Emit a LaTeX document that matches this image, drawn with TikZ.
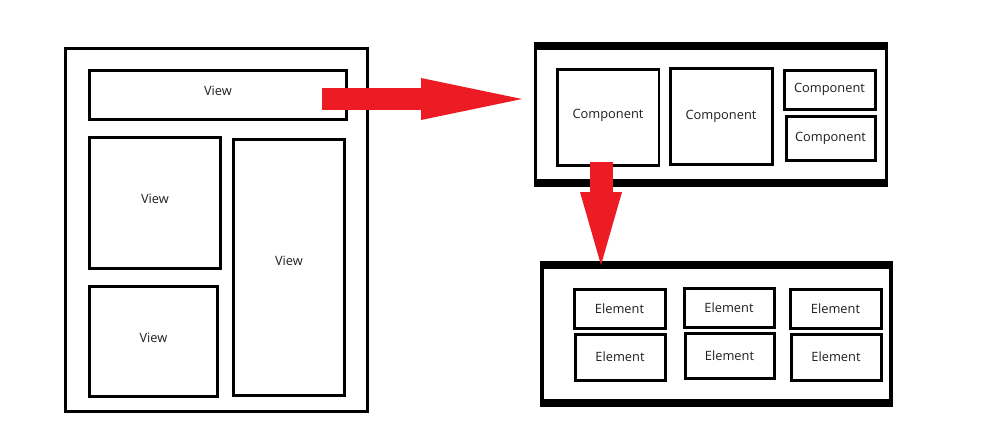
\documentclass[tikz,border=0pt]{standalone}
\usepackage{fontspec}
\setmainfont{Open Sans}
\usetikzlibrary{arrows.meta,calc}
\definecolor{arrowred}{HTML}{ED1C24}
\definecolor{inktext}{HTML}{1E1E1E}
\tikzset{
  pagebox/.style={draw,line width=0.06cm,inner sep=0pt,outer sep=0pt},
  viewbox/.style={draw,line width=0.06cm,inner sep=0pt,outer sep=0pt,text=inktext,font=\fontsize{7.3}{8}\selectfont},
  liftlabel/.style={text depth=4.5pt},
  framebox/.style={draw,line width=0.07cm,inner sep=0pt,outer sep=0pt},
  frameedge/.style={line width=0.16cm,shorten <=-0.035cm,shorten >=-0.035cm},
  redarrow/.style={-{Triangle[length=#1,width=0.84cm,line width=0pt]},line width=0.44cm,arrowred}
}

\begin{document}
\begin{tikzpicture}[x=0.02cm,y=-0.02cm]
  \useasboundingbox (0,0) rectangle (1000,420);
  % page with its views
  \node[pagebox,minimum width=6.06cm,minimum height=7.28cm] (page) at (216.5,230) {};
  \node[viewbox,liftlabel,minimum width=5.16cm,minimum height=0.98cm] (vtop) at (218,94.5) {View};
  \node[viewbox,liftlabel,minimum width=2.64cm,minimum height=2.64cm] (vleft) at (155,203) {View};
  \node[viewbox,liftlabel,minimum width=2.58cm,minimum height=2.22cm] (vbottom) at (153.5,341.5) {View};
  \node[viewbox,liftlabel,text depth=8pt,minimum width=2.24cm,minimum height=5.14cm] (vright) at (289,267.5) {View};
  % components
  \node[framebox,minimum width=7.02cm,minimum height=2.74cm] (comp) at (711,114.5) {};
  \draw[frameedge] (comp.north west) -- (comp.north east);
  \draw[frameedge] (comp.south west) -- (comp.south east);
  \node[viewbox,liftlabel,minimum width=2.04cm,minimum height=1.94cm] (c1) at (608,117.5) {Component};
  \node[viewbox,minimum width=2.04cm,minimum height=1.94cm] (c2) at (721,116.5) {Component};
  \node[viewbox,minimum width=1.82cm,minimum height=0.78cm] (c3) at (829.5,89.5) {Component};
  \node[viewbox,minimum width=1.78cm,minimum height=0.88cm] (c4) at (830.5,138) {Component};
  % elements
  \node[framebox,minimum width=6.99cm,minimum height=2.77cm] (elems) at (716.5,334.25) {};
  \draw[frameedge] (elems.north west) -- (elems.north east);
  \draw[frameedge] (elems.south west) -- (elems.south east);
  \node[viewbox,minimum width=1.82cm,minimum height=0.78cm] (e1) at (619.5,308.5) {Element};
  \node[viewbox,minimum width=1.80cm,minimum height=0.78cm] (e2) at (729,307.5) {Element};
  \node[viewbox,minimum width=1.82cm,minimum height=0.78cm] (e3) at (835.5,308.5) {Element};
  \node[viewbox,minimum width=1.80cm,minimum height=0.92cm] (e4) at (620,357) {Element};
  \node[viewbox,minimum width=1.78cm,minimum height=0.90cm] (e5) at (729.5,355.5) {Element};
  \node[viewbox,minimum width=1.80cm,minimum height=0.92cm] (e6) at (836,357) {Element};
  % arrows
  \draw[redarrow=2.02cm] ($(vtop.east)+(-25,4.5)$) -- ($(vtop.east -| comp.west)+(-13.5,4.5)$);
  \draw[redarrow=1.46cm,line width=0.46cm] ($(c1.south)+(-7,-4)$) -- ($(c1.south |- elems.north)+(-7,0)$);
\end{tikzpicture}
\end{document}
